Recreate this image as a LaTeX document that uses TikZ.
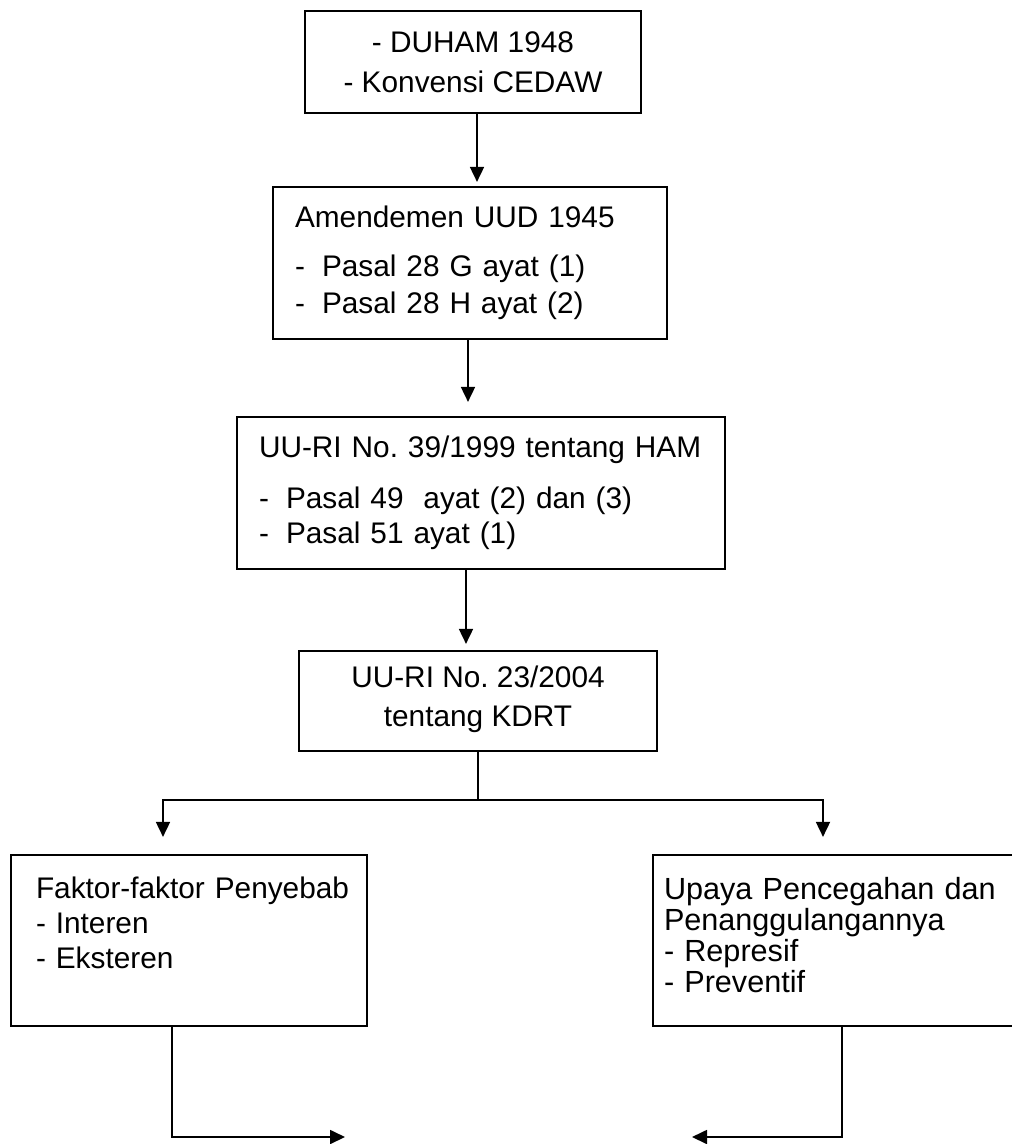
\documentclass[tikz,border=0pt]{standalone}
\usepackage{fontspec}
\setmainfont{Liberation Sans}
\usetikzlibrary{arrows.meta,positioning,calc}
\frenchspacing
\tikzset{
  line/.style = {line width=1.8pt},
  arr/.style  = {line, -{Triangle[width=14pt,length=15pt]}},
  box/.style  = {draw, line width=2.2pt, inner ysep=0pt, font=\fontsize{29.8}{35}\selectfont},
  cbox/.style = {box, align=center},
  lbox/.style = {box, align=left},
}
\newcommand{\itemdash}{\makebox[27pt][l]{-}}

\begin{document}
\begin{tikzpicture}[x=1pt, y=-1pt]
  \useasboundingbox (0,0) rectangle (1012,1144);
  % dasar hukum
  \node[cbox, minimum width=336pt, minimum height=102pt] (duham) at (473,62)
    {- DUHAM 1948\\[5pt]- Konvensi CEDAW};
  \node[lbox, minimum width=394pt, minimum height=152pt, inner xsep=22pt, text width=350pt] (uud) at (470,263)
    {Amendemen UUD 1945\\[14pt]\itemdash Pasal 28 G ayat (1)\\[2pt]\itemdash Pasal 28 H ayat (2)};
  \node[lbox, minimum width=488pt, minimum height=152pt, inner xsep=22pt, text width=444pt] (ham) at (481,493)
    {\mbox{UU-RI No. 39/1999 tentang HAM}\\[16pt]\itemdash Pasal 49~ ayat (2) dan (3)\\\itemdash Pasal 51 ayat (1)};
  \node[cbox, minimum width=358pt, minimum height=100pt] (kdrt) at (478,701)
    {UU-RI No. 23/2004\\[4pt]tentang KDRT\\[-25pt]\mbox{}};
  % dua cabang
  \node[lbox, minimum width=356pt, minimum height=171pt, inner xsep=25pt, text width=306pt] (faktor) at (189,940.5)
    {\mbox{Faktor-faktor Penyebab}\\- Interen\\- Eksteren\\\mbox{}};
  \node[lbox, minimum width=367pt, minimum height=171pt, inner xsep=11pt, text width=345pt,
        font=\fontsize{30.6}{31}\selectfont] (upaya) at (836.5,940.5)
    {\mbox{Upaya Pencegahan dan}\\Penanggulangannya\\- Represif\\- Preventif\\[-19pt]\mbox{}};

  \coordinate (cab) at (478,800);
  \coordinate (endL) at (345,1137);
  \coordinate (endR) at (692,1137);

  \draw[arr, shorten >=4pt] ([xshift=4pt]duham.south) -- ([xshift=7pt]uud.north);
  \draw[arr, shorten >=14pt] ([xshift=-2pt]uud.south) -- ([xshift=-13pt]ham.north);
  \draw[arr, shorten >=6pt] ([xshift=-15pt]ham.south) -- ([xshift=-12pt]kdrt.north);
  \draw[line] (kdrt.south) -- (cab);
  \draw[arr, shorten >=17pt] (cab) -| ([xshift=-26pt]faktor.north);
  \draw[arr, shorten >=17pt] (cab) -| ([xshift=-13.5pt]upaya.north);
  \draw[arr] ([xshift=-17pt]faktor.south) |- (endL);
  \draw[arr] ([xshift=5.5pt]upaya.south) |- (endR);
\end{tikzpicture}
\end{document}
